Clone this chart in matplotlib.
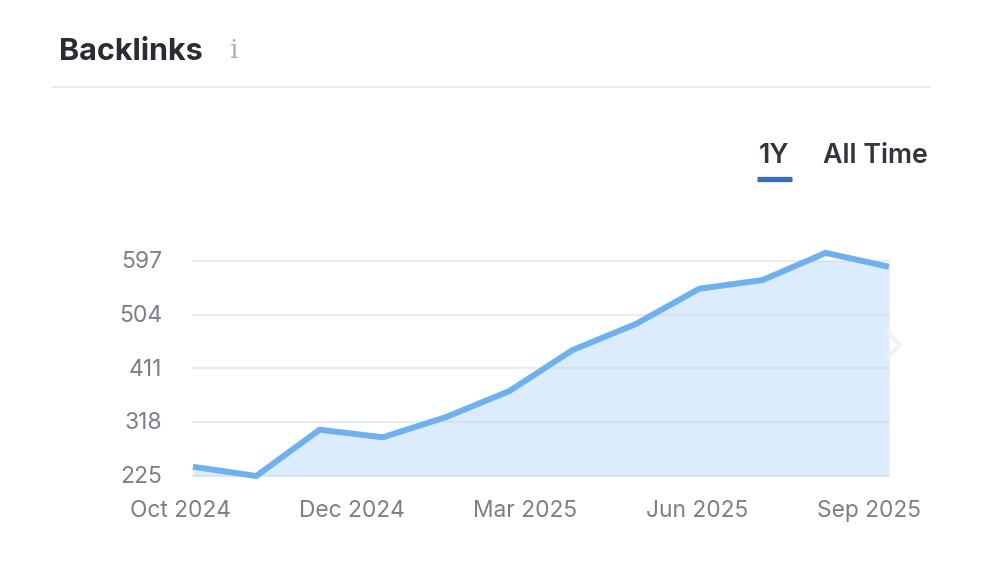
#!/usr/bin/env python3
import matplotlib
matplotlib.use("Agg")
import matplotlib.pyplot as plt
from matplotlib.transforms import ScaledTranslation

W, H = 1000, 572

MONTHS = ["Oct 2024", "Nov 2024", "Dec 2024", "Jan 2025", "Feb 2025", "Mar 2025",
          "Apr 2025", "May 2025", "Jun 2025", "Jul 2025", "Aug 2025", "Sep 2025"]
BACKLINKS = [241, 225, 305, 292, 327, 372, 443, 488, 549, 564, 611, 587]
Y_TICKS = [225, 318, 411, 504, 597]
X_LABELS = ["Oct 2024", "Dec 2024", "Mar 2025", "Jun 2025", "Sep 2025"]
X_LABEL_PX = [180, 352, 525, 697, 869]

LINE = "#6fb1f0"
FILL = "#dbecfc"
GRID = "#c9d2e0"
TICK_TEXT = "#7c7f88"
DARK = "#2a2c33"


def px(x, y):
    return x / W, 1 - y / H


plt.rcParams["font.family"] = ["Inter", "DejaVu Sans"]

fig = plt.figure(figsize=(W / 100, H / 100), dpi=100, facecolor="white")
ax = fig.add_axes([193 / W, 1 - 476 / H, (889 - 193) / W, (476 - 261) / H])

xs = list(range(len(MONTHS)))
ax.fill_between(xs, BACKLINKS, 225, color=FILL, linewidth=0, zorder=1)
ax.plot(xs, BACKLINKS, color=LINE, linewidth=4.3, solid_joinstyle="miter",
        solid_capstyle="butt", clip_on=False, zorder=3)

ax.set_xlim(0, len(MONTHS) - 1)
ax.set_ylim(225, 597)
ax.set_yticks(Y_TICKS)
ax.set_xticks([])
ax.tick_params(axis="y", length=0, pad=22, labelsize=16.5, labelcolor=TICK_TEXT)
ax.grid(axis="y", color=GRID, alpha=0.42, linewidth=1.5, zorder=2)
for gl in ax.get_ygridlines():
    gl.set_clip_on(False)
ax.set_axisbelow(False)
for s in ax.spines.values():
    s.set_visible(False)
ax.patch.set_alpha(0)

# y labels sit slightly above their grid lines in the original
shift = ScaledTranslation(0, 1 / 72, fig.dpi_scale_trans)
for lab in ax.get_yticklabels():
    lab.set_transform(lab.get_transform() + shift)

for label, x in zip(X_LABELS, X_LABEL_PX):
    fx, fy = px(x, 511)
    fig.text(fx, fy, label, ha="center", va="center", fontsize=16.4, color=TICK_TEXT)

# header
fx, fy = px(59, 52)
fig.text(fx, fy, "Backlinks", ha="left", va="center", fontsize=22, fontweight="bold", color=DARK)
fx, fy = px(234, 50)
fig.text(fx, fy, "i", ha="center", va="center", fontsize=19, family="DejaVu Serif", color="#a9adb8")
fig.add_artist(plt.Line2D([52 / W, 930 / W], [1 - 87 / H] * 2, color="#e4e5e8", linewidth=1.2))

# range tabs
fx, fy = px(774, 156)
fig.text(fx, fy, "1Y", ha="center", va="center", fontsize=19.3, fontweight="semibold", color="#33353c")
fx, fy = px(875.5, 156)
fig.text(fx, fy, "All Time", ha="center", va="center", fontsize=19.3, fontweight="semibold", color="#33353c")
fig.add_artist(plt.Line2D([757 / W, 792 / W], [1 - 179.5 / H] * 2, color="#3b6bbd", linewidth=3.8,
                          solid_capstyle="butt"))

# scroll arrow
fig.add_artist(plt.Line2D([888 / W, 900 / W, 888 / W],
                          [1 - 333 / H, 1 - 345 / H, 1 - 357 / H],
                          color="#f0f1f2", linewidth=3))

fig.savefig("out.png", dpi=100)
plt.close(fig)
